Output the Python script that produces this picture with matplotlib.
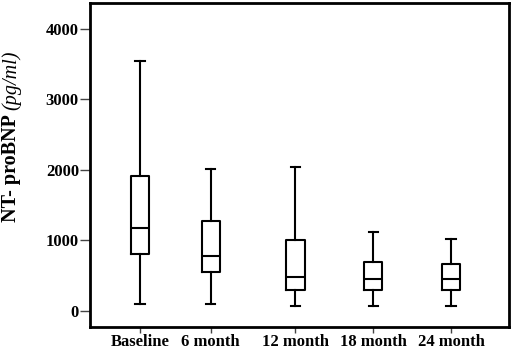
import matplotlib
matplotlib.use("Agg")
import matplotlib.pyplot as plt

plt.rcParams['font.family'] = ['Liberation Serif', 'DejaVu Serif']

# values (pg/ml)
labels = ["Baseline", "6 month", "12 month", "18 month", "24 month"]
whisk_lo = [88, 88, 64, 69, 69]
q1 = [801, 550, 295, 291, 291]
median = [1166, 777, 480, 447, 447]
q3 = [1912, 1274, 996, 693, 664]
whisk_hi = [3540, 2011, 2040, 1118, 1010]

# the original groups are not evenly spaced
positions = [0, 0.91, 2, 3, 4]

stats = []
for i in range(len(labels)):
    stats.append(dict(label=labels[i], whislo=whisk_lo[i], q1=q1[i],
                      med=median[i], q3=q3[i], whishi=whisk_hi[i]))

fig = plt.figure(figsize=(5.12, 3.51), dpi=100)
ax = fig.add_axes([90 / 512, 24 / 351, 419 / 512, 324 / 351])

lw = 1.5
ax.bxp(stats, positions=positions, widths=0.235, showfliers=False,
       boxprops=dict(color='black', linewidth=lw),
       whiskerprops=dict(color='black', linewidth=lw),
       capprops=dict(color='black', linewidth=lw),
       medianprops=dict(color='black', linewidth=lw))

ax.set_xlim(-0.643, 4.746)
ax.set_ylim(-234, 4362)
ax.set_yticks([0, 1000, 2000, 3000, 4000])
ax.set_xticks(positions)
ax.set_xticklabels(labels)

for s in ax.spines.values():
    s.set_linewidth(2)
ax.tick_params(axis='both', direction='out', width=1, color='#444444')
ax.tick_params(axis='y', labelsize=12, length=7, pad=1)
ax.tick_params(axis='x', labelsize=12, length=4, pad=1)
for t in ax.get_xticklabels() + ax.get_yticklabels():
    t.set_fontweight('bold')

# y label: bold name with italic units
fig.text(11 / 512, 129 / 351, "NT- proBNP", rotation=90, ha='center', va='bottom',
         fontsize=14.5, fontweight='bold')
fig.text(11 / 512, 241 / 351, "(pg/ml)", rotation=90, ha='center', va='bottom',
         fontsize=14.5, fontstyle='italic')

fig.savefig("out.png", dpi=100)
